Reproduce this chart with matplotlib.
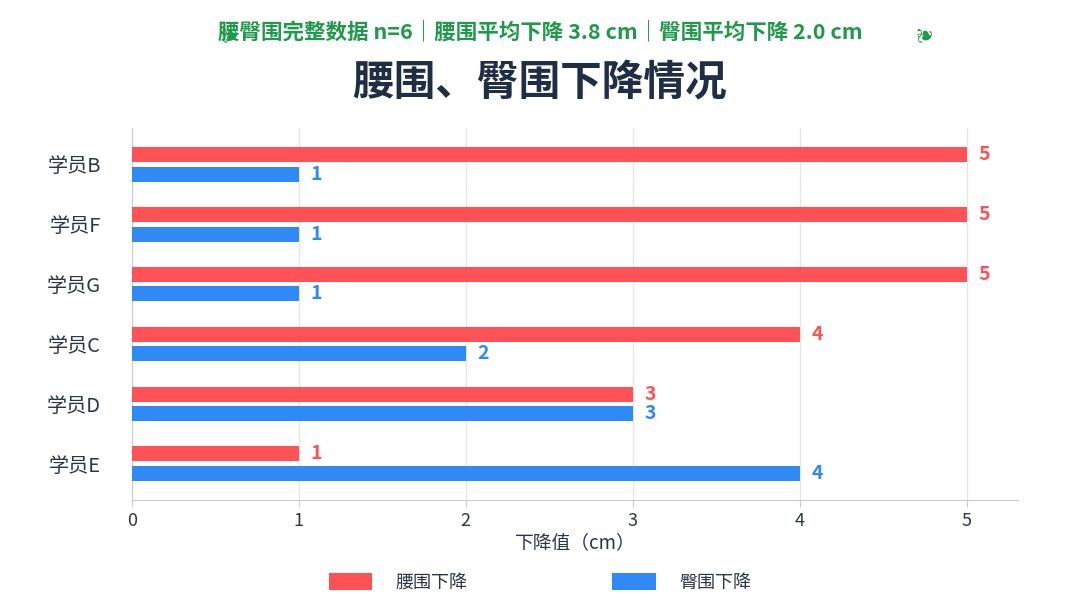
import matplotlib
matplotlib.use("Agg")
import matplotlib.pyplot as plt
import numpy as np

plt.rcParams['font.family'] = ['Noto Sans CJK SC', 'DejaVu Sans']

students = ['学员B', '学员F', '学员G', '学员C', '学员D', '学员E']
waist = [5, 5, 5, 4, 3, 1]
hip = [1, 1, 1, 2, 3, 4]
red = '#FF5257'
blue = '#2F8AF5'

fig = plt.figure(figsize=(10.8, 6.08), dpi=100)
ax = fig.add_axes([0.122, 0.178, 0.821, 0.611])
y = np.arange(len(students))
h = 0.25
ax.barh(y - 0.165, waist, height=h, color=red, label='腰围下降', zorder=3)
ax.barh(y + 0.165, hip, height=h, color=blue, label='臀围下降', zorder=3)
for yi, w, hp in zip(y, waist, hip):
    ax.text(w + 0.07, yi - 0.165, str(w), color=red, va='center', ha='left', fontsize=14, fontweight='bold')
    ax.text(hp + 0.07, yi + 0.165, str(hp), color=blue, va='center', ha='left', fontsize=14, fontweight='bold')
ax.set_yticks(y)
ax.set_yticklabels(students, fontsize=14.5, color='#2b3648')
ax.set_ylim(5.6, -0.6)
ax.set_xlim(0, 5.31)
ax.set_xticks([0, 1, 2, 3, 4, 5])
ax.tick_params(axis='x', labelsize=13, colors='#2b3648', length=5, color='#cccccc')
ax.tick_params(axis='y', length=0, pad=22)
ax.grid(axis='x', color='#e6e6e6', linewidth=1, zorder=0)
for s in ['top', 'right']:
    ax.spines[s].set_visible(False)
for s in ['left', 'bottom']:
    ax.spines[s].set_color('#cccccc')
ax.set_xlabel('下降值（cm）', fontsize=13.5, color='#2b3648', labelpad=2)
fig.legend(loc='lower center', bbox_to_anchor=(0.5, 0.0), ncol=2, frameon=False,
           fontsize=13, handlelength=2.4, handleheight=1.1, columnspacing=8, handletextpad=1.3,
           labelcolor='#2b3648')
fig.text(0.5, 0.865, '腰围、臀围下降情况', ha='center', va='center', fontsize=30, fontweight='bold', color='#1f2d45')
fig.text(0.5, 0.948, '腰臀围完整数据 n=6｜腰围平均下降 3.8 cm｜臀围平均下降 2.0 cm',
         ha='center', va='center', fontsize=15.5, fontweight='bold', color='#1e9a4a')
for xx in (0.214, 0.857):
    fig.text(xx, 0.946, '❦', ha='center', va='center', fontsize=15, color='#1e9a4a',
             family='DejaVu Sans', rotation=90)
fig.savefig('out.png', dpi=100, facecolor='white')
